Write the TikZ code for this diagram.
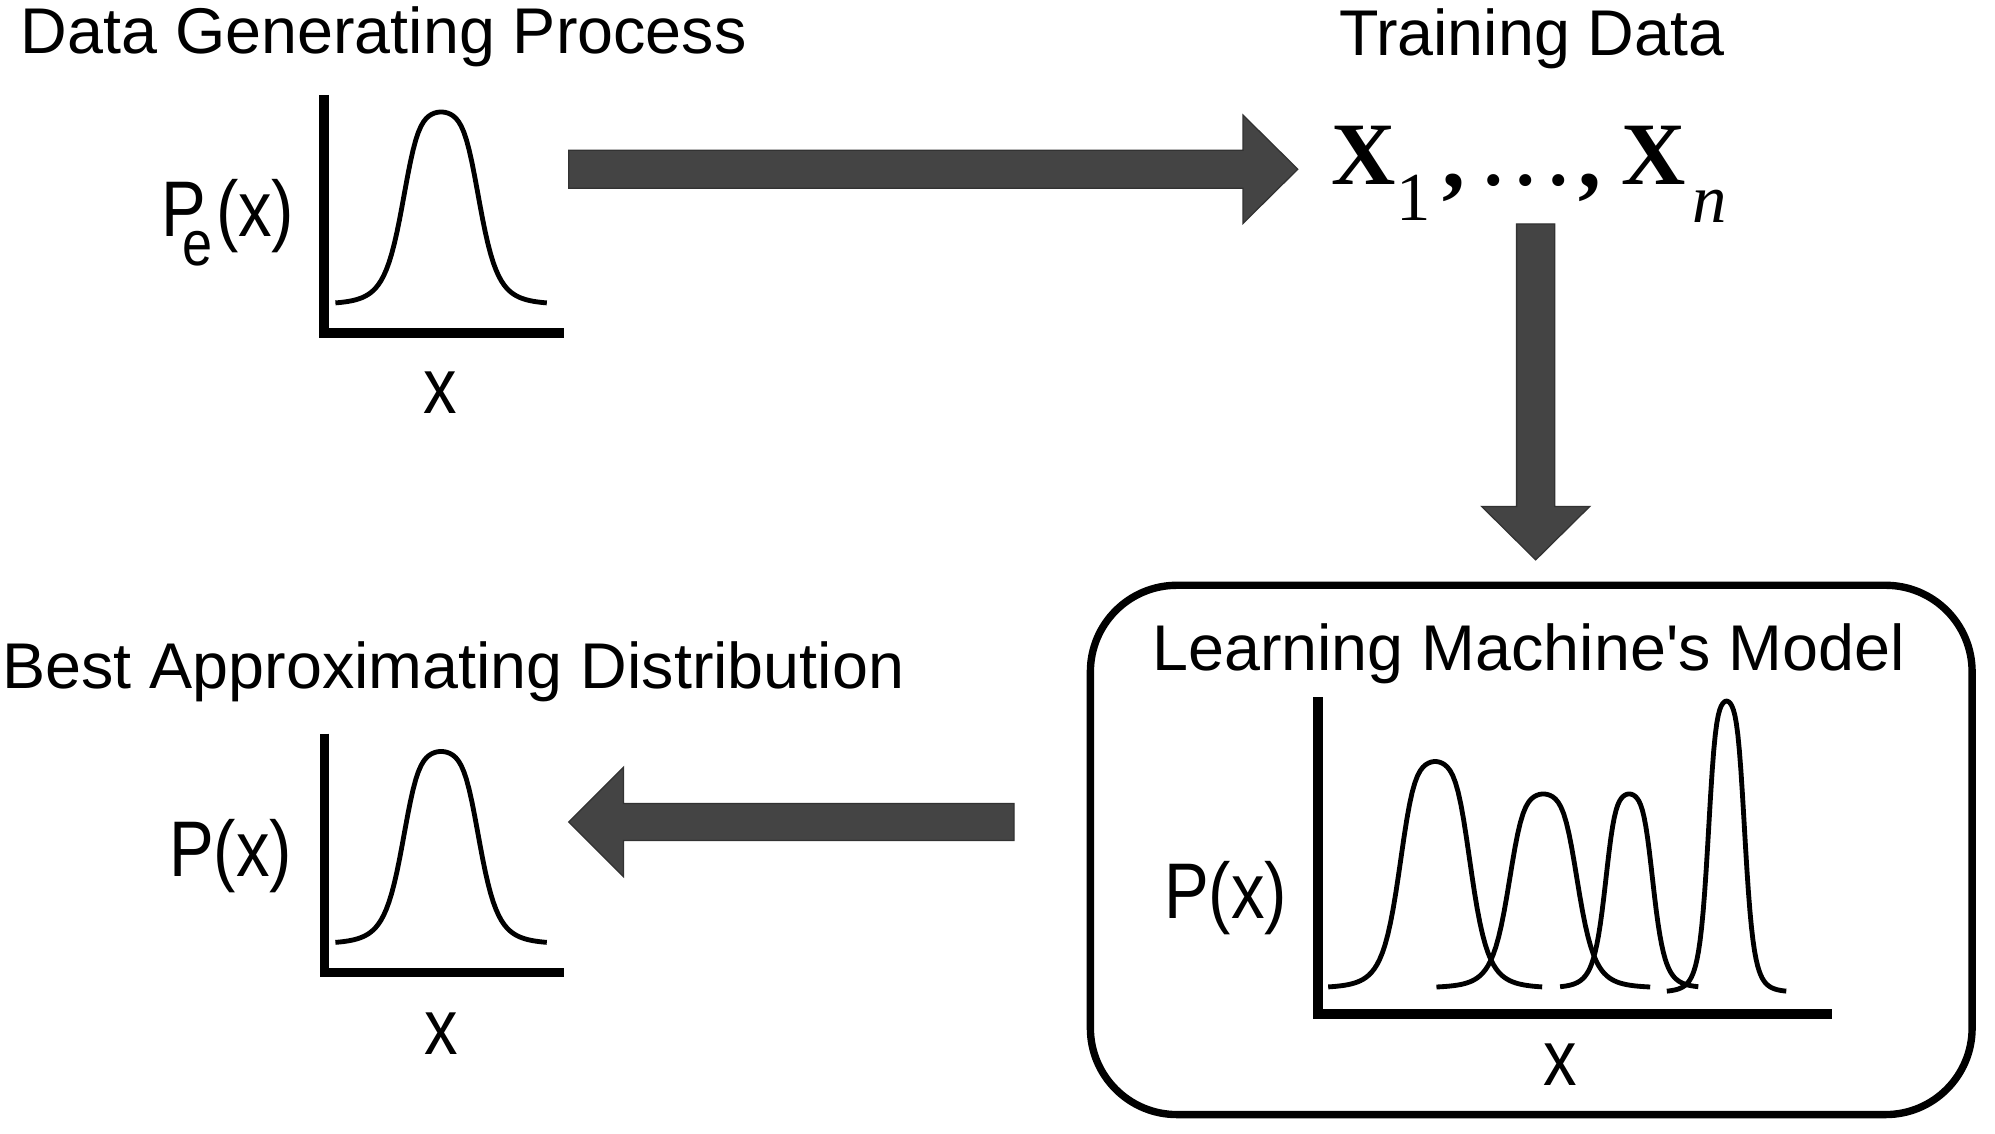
\documentclass[tikz,border=0pt]{standalone}
\usepackage{fontspec}
\setmainfont{Liberation Sans}
\newfontfamily\labelfont[FakeStretch=0.85]{Liberation Sans}
\newfontfamily\serifont{Liberation Serif}
\usetikzlibrary{calc}
\definecolor{arrowgray}{RGB}{68,68,68}
\definecolor{arrowedge}{RGB}{50,50,50}
\begin{document}
\begin{tikzpicture}[x=0.5pt,y=-0.5pt,
  heading/.style={anchor=base west, inner sep=0, font=\fontsize{25.4}{30}\selectfont},
  axlabel/.style={inner sep=0, font=\labelfont\fontsize{31}{36}\selectfont},
  axisline/.style={line width=3.7pt, line join=miter},
  bell/.style={line width=1.9pt, line join=round},
  blockarrow/.style={fill=arrowgray, draw=arrowedge, line width=0.5pt, line join=miter},
  seqbold/.style={inner sep=0, anchor=base, font=\serifont\bfseries\fontsize{35}{40}\selectfont},
  seqsub/.style={inner sep=0, anchor=base, font=\serifont\fontsize{27}{30}\selectfont},
  seqcomma/.style={inner sep=0, anchor=base, font=\serifont\bfseries\fontsize{36}{40}\selectfont},
  seqdots/.style={inner sep=0, anchor=base, font=\serifont\bfseries\fontsize{29}{32}\selectfont}]
\fill[white] (0,0) rectangle (1568,891);
\useasboundingbox (0,0) rectangle (1568,891);

% headings
\node[heading] (dgp) at (16,42) {Data Generating Process};
\node[heading] (td) at (1052,43.5) {Training Data};
\node[heading] (bad) at (1.6,541) {Best Approximating Distribution};
\node[heading] (lmm) at (905.3,526.6) {Learning Machine\textquotesingle s Model};

% top-left plot
\draw[axisline] (254.6,74.6) -- (254.6,261.7) -- (443,261.7);
\draw[bell] plot[domain=-2.68:2.68, samples=80] ({346.7+31*\x}, {239.4-151.4/(1+0.2*\x*\x+0.8*pow(abs(\x),5))});
\node[axlabel, anchor=base west] (pe) at (126.2,186) {P\kern-9.3pt\raisebox{-11.5pt}{\fontsize{25}{25}\selectfont e}\kern1.5pt(x)};
\node[axlabel, anchor=base] (xa) at (345.8,324.6) {x};

% bottom-left plot
\draw[axisline] (255,576.6) -- (255,764.3) -- (443,764.3);
\draw[bell] plot[domain=-2.68:2.68, samples=80] ({346.7+31*\x}, {742-151.4/(1+0.2*\x*\x+0.8*pow(abs(\x),5))});
\node[axlabel, anchor=base west] (pb) at (132.5,689) {P(x)};
\node[axlabel, anchor=base] (xb) at (347,828.6) {x};

% training data
\node[seqbold] (X1) at (1072.1,145) {X};
\node[seqsub] (s1) at (1111,173) {1};
\node[seqcomma] (c1) at (1143,147.4) {,};
\node[seqdots] (dd) at (1199.3,145.8) {.\kern5.5pt.\kern5.5pt.};
\node[seqcomma] (c2) at (1250,147.4) {,};
\node[seqbold] (X2) at (1300,145) {X};
\node[seqsub, font=\serifont\itshape\fontsize{27}{30}\selectfont] (sn) at (1344,174.5) {n};

% model box
\node[draw, line width=2.9pt, rounded corners=34pt, minimum width=346.5pt, minimum height=208pt, inner sep=0] (model) at (1203.5,668) {};
\draw[axisline] (1036,548) -- (1036,797) -- (1440,797);
\draw[bell] plot[domain=-2.92:2.92, samples=80] ({1128+28.8*\x}, {776.7-178.2/(1+0.2*\x*\x+0.8*pow(abs(\x),5))});
\draw[bell] plot[domain=-3.0:3.0, samples=80] ({1213+28*\x}, {776.5-152.5/(1+0.2*\x*\x+0.8*pow(abs(\x),5))});
\draw[bell] plot[domain=-2.8:2.8, samples=80] ({1280.5+19.4*\x}, {776.6-152.6/(1+0.2*\x*\x+0.8*pow(abs(\x),5))});
\draw[bell] plot[domain=-3.15:3.15, samples=80] ({1357+14.9*\x}, {779.9-228.9/(1+0.2*\x*\x+0.8*pow(abs(\x),5))});
\node[axlabel, anchor=base west] (pm) at (914.5,722.2) {P(x)};
\node[axlabel, anchor=base] (xm) at (1226,852.8) {x};

% block arrows
\coordinate (a1s) at (447,133);
\coordinate (a1e) at (1020,133);
\path[blockarrow] ($(a1s)+(0,-15)$) -- ($(a1e)+(-43,-15)$) -- ($(a1e)+(-43,-42.5)$) -- (a1e) -- ($(a1e)+(-43,42.5)$) -- ($(a1e)+(-43,15)$) -- ($(a1s)+(0,15)$) -- cycle;

\coordinate (a2s) at (1207,176);
\coordinate (a2e) at (1207,440);
\path[blockarrow] ($(a2s)+(-15,0)$) -- ($(a2e)+(-15,-42)$) -- ($(a2e)+(-42.5,-42)$) -- (a2e) -- ($(a2e)+(42.5,-42)$) -- ($(a2e)+(15,-42)$) -- ($(a2s)+(15,0)$) -- cycle;

\coordinate (a3s) at (797,646);
\coordinate (a3e) at (447,646);
\path[blockarrow] ($(a3s)+(0,-14.5)$) -- ($(a3e)+(43,-14.5)$) -- ($(a3e)+(43,-43)$) -- (a3e) -- ($(a3e)+(43,43)$) -- ($(a3e)+(43,14.5)$) -- ($(a3s)+(0,14.5)$) -- cycle;
\end{tikzpicture}
\end{document}
